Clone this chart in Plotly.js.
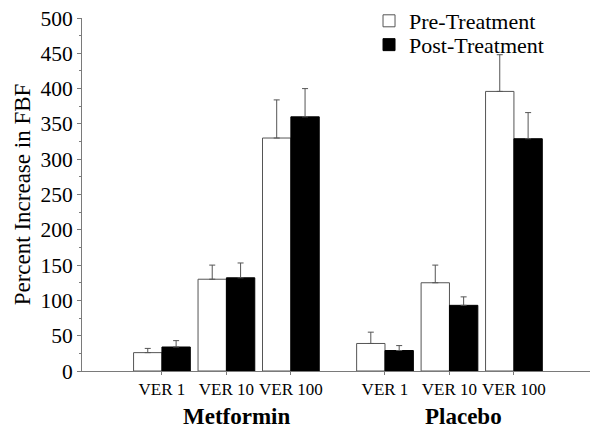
<!DOCTYPE html>
<html>
<head>
<meta charset="utf-8">
<script src="https://cdn.plot.ly/plotly-3.0.1.min.js"></script>
<style>html,body{margin:0;padding:0;background:#fff;}#chart{width:590px;height:429px;}</style>
</head>
<body>
<div id="chart"></div>
<script>
// ---- data ----
const groups = ['Metformin', 'Placebo'];
const doses = ['VER 1', 'VER 10', 'VER 100'];
const preValues  = [26, 130, 330, 39, 125, 396];
const preErrors  = [6, 20, 54, 16, 25, 52];
const postValues = [34, 132, 360, 29, 93, 329];
const postErrors = [9, 21, 40, 7, 12, 37];
const seriesNames = ['Pre-Treatment', 'Post-Treatment'];

// ---- layout helpers ----
const groupStride = 3.46;   // spacing between the start of each group on the x axis
const xs = [], tickText = [];
groups.forEach((g, gi) => {
  doses.forEach((d, di) => {
    xs.push(1 + gi * groupStride + di);
    tickText.push(d);
  });
});
const zeros = preValues.map(() => 0);

const font = 'Liberation Serif';
const axisColor = '#7a7a7a';

const traces = [
  {
    type: 'bar', name: seriesNames[0], x: xs, y: preValues, legend: 'legend',
    marker: {color: '#ffffff', line: {color: '#555555', width: 1}},
    error_y: {type: 'data', symmetric: false, array: preErrors, arrayminus: zeros,
              color: '#555555', thickness: 1, width: 3}
  },
  {
    type: 'bar', name: seriesNames[1], x: xs, y: postValues, legend: 'legend2',
    marker: {color: '#000000', line: {color: '#000000', width: 1}},
    error_y: {type: 'data', symmetric: false, array: postErrors, arrayminus: zeros,
              color: '#555555', thickness: 1, width: 3}
  }
];

const legendFont = {family: font, size: 22, color: '#000'};

const layout = {
  width: 590, height: 429,
  margin: {l: 82, r: 0, t: 16, b: 58},
  paper_bgcolor: '#ffffff', plot_bgcolor: '#ffffff',
  barmode: 'group', bargap: 0.12, bargroupgap: 0,
  font: {family: font, color: '#000000'},
  showlegend: true,
  legend: {
    x: 0.565, xanchor: 'left', y: 0.992, yanchor: 'middle',
    bgcolor: 'rgba(0,0,0,0)', font: legendFont
  },
  legend2: {
    x: 0.565, xanchor: 'left', y: 0.924, yanchor: 'middle',
    bgcolor: 'rgba(0,0,0,0)', font: legendFont
  },
  xaxis: {
    range: [-0.24, 7.64], showgrid: false, zeroline: false,
    showline: true, linecolor: axisColor, linewidth: 1,
    tickmode: 'array', tickvals: xs, ticktext: tickText, tickangle: 0,
    ticks: 'outside', ticklen: 3, tickcolor: axisColor,
    tickfont: {family: font, size: 17, color: '#000'}
  },
  yaxis: {
    range: [0, 500], showgrid: false, zeroline: false,
    showline: true, linecolor: axisColor, linewidth: 1,
    tickmode: 'linear', tick0: 0, dtick: 50,
    ticks: 'outside', ticklen: 4, tickcolor: axisColor,
    minor: {dtick: 25, ticks: 'outside', ticklen: 2, tickcolor: axisColor, showgrid: false},
    tickfont: {family: font, size: 21.5, color: '#000'},
    title: {text: 'Percent Increase in FBF', font: {family: font, size: 23, color: '#000'}, standoff: 3}
  },
  annotations: groups.map((g, gi) => ({
    text: '<b>' + g + '</b>', xref: 'x', yref: 'paper',
    x: 2.15 + gi * (groupStride + 0.07), y: -0.13, yanchor: 'middle', showarrow: false,
    font: {family: font, size: 23, color: '#000'}
  }))
};

Plotly.newPlot('chart', traces, layout, {staticPlot: true, displayModeBar: false});
</script>
</body>
</html>
